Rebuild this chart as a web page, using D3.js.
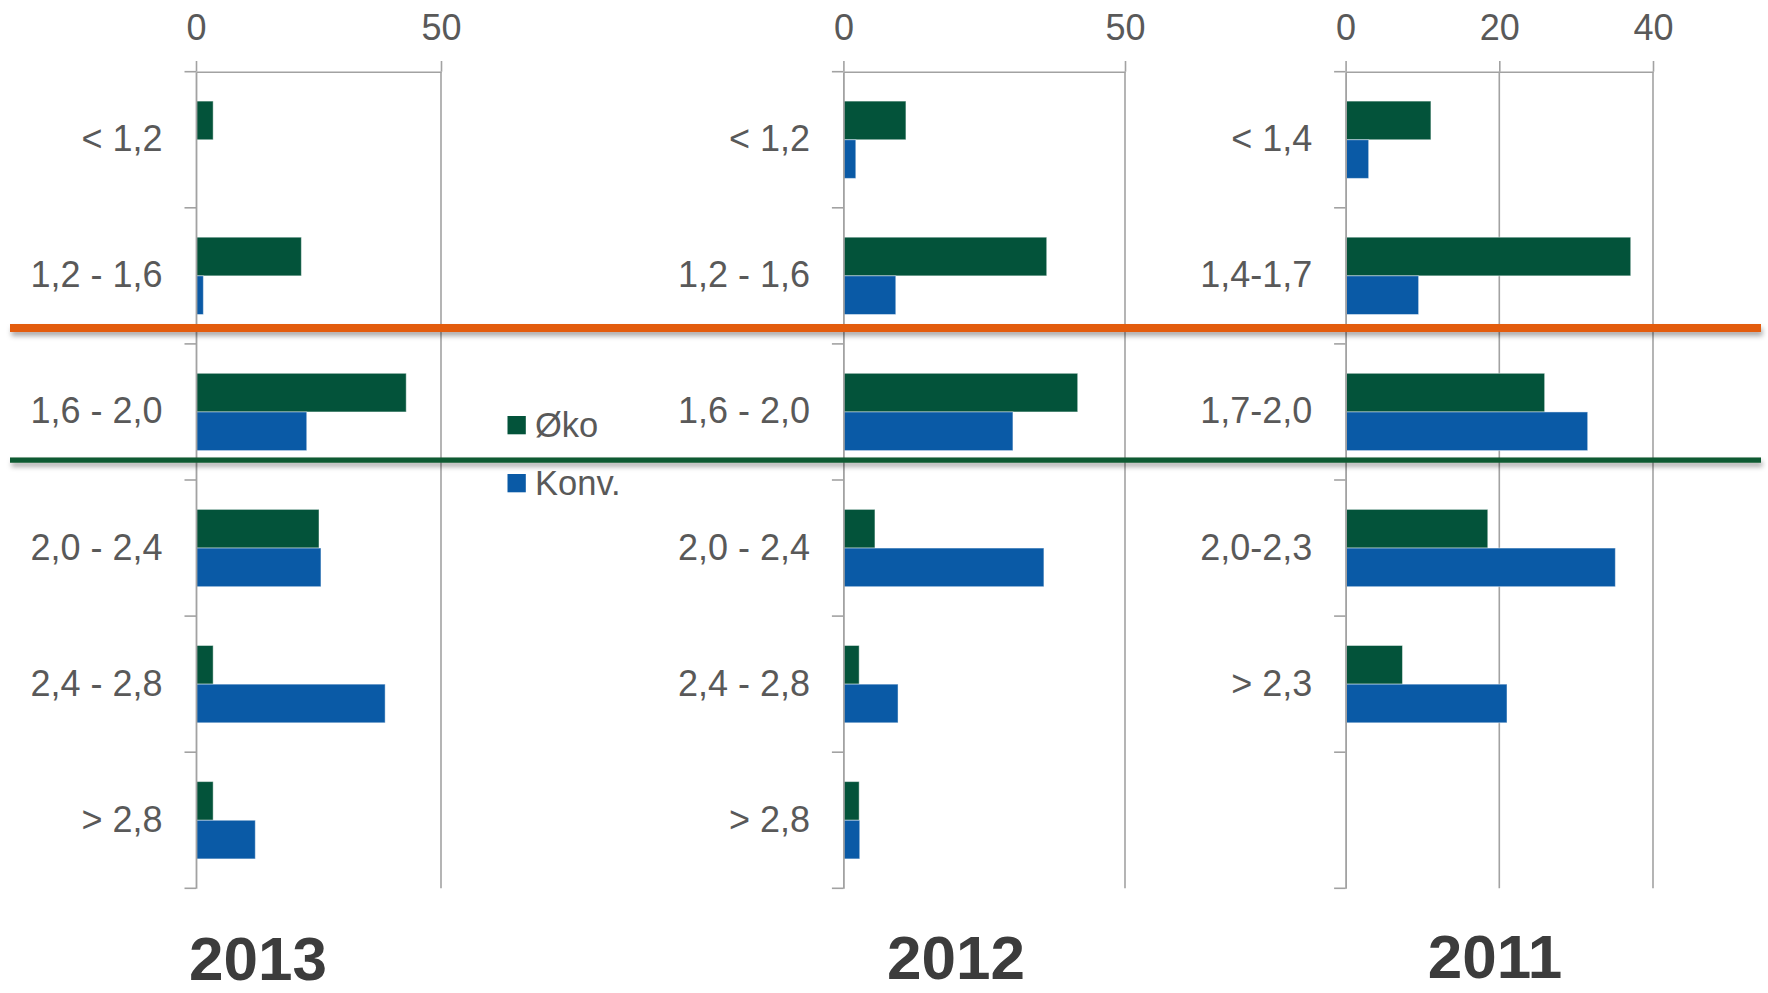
<!DOCTYPE html>
<html lang="da">
<head>
<meta charset="utf-8">
<title>Fordeling 2011–2013: Øko og Konv.</title>
<script src="https://cdn.jsdelivr.net/npm/d3@7"></script>
<style>
  html, body { margin: 0; padding: 0; background: #ffffff; }
  svg { display: block; font-family: "Liberation Sans", Arial, sans-serif; }
</style>
</head>
<body>
<script>
// ---- Data -----------------------------------------------------------
const seriesNames = ["Øko", "Konv."];

const labels2013 = ["< 1,2", "1,2 - 1,6", "1,6 - 2,0", "2,0 - 2,4", "2,4 - 2,8", "> 2,8"];
const oko2013    = [3.5, 21.5, 42.9, 25.1, 3.5, 3.5];
const konv2013   = [0, 1.5, 22.6, 25.5, 38.6, 12.1];
const ticks2013  = [0, 50];

const labels2012 = ["< 1,2", "1,2 - 1,6", "1,6 - 2,0", "2,0 - 2,4", "2,4 - 2,8", "> 2,8"];
const oko2012    = [11.1, 36.1, 41.6, 5.6, 2.8, 2.8];
const konv2012   = [2.2, 9.3, 30.1, 35.6, 9.7, 2.9];
const ticks2012  = [0, 50];

const labels2011 = ["< 1,4", "1,4-1,7", "1,7-2,0", "2,0-2,3", "> 2,3"];
const oko2011    = [11.1, 37.1, 25.9, 18.5, 7.4];
const konv2011   = [3.0, 9.5, 31.5, 35.1, 21.0];
const ticks2011  = [0, 20, 40];

// ---- Layout & style -------------------------------------------------
const W = 1768, H = 993;
const SLOTS = 6;                 // every panel has six category rows
const PLOT_TOP = 71.7, PLOT_BOTTOM = 888.3;
const COLORS = { "Øko": "#03533a", "Konv.": "#0a5aa6" };
const AXIS_COLOR = "#a2a2a2";
const TEXT_COLOR = "#595959";
const TITLE_COLOR = "#3c3c3c";
const FONT_SIZE = 36;

const panels = [
  { year: "2013", labels: labels2013, oko: oko2013, konv: konv2013, ticks: ticks2013,
    domain: [0, 50], left: 196, right: 441, titleX: 258, titleY: 980 },
  { year: "2012", labels: labels2012, oko: oko2012, konv: konv2012, ticks: ticks2012,
    domain: [0, 50], left: 843.4, right: 1125, titleX: 956, titleY: 979 },
  { year: "2011", labels: labels2011, oko: oko2011, konv: konv2011, ticks: ticks2011,
    domain: [0, 40], left: 1345.6, right: 1653, titleX: 1495, titleY: 978 }
];

const svg = d3.select("body").append("svg")
  .attr("width", W).attr("height", H)
  .attr("viewBox", `0 0 ${W} ${H}`);

svg.append("rect").attr("width", W).attr("height", H).attr("fill", "#ffffff");

// soft shadow under the marker lines
const defs = svg.append("defs");
const shadow = defs.append("filter")
  .attr("id", "lineShadow")
  .attr("filterUnits", "userSpaceOnUse")
  .attr("x", 0).attr("y", 0).attr("width", W).attr("height", H);
shadow.append("feDropShadow")
  .attr("dx", 1.5).attr("dy", 4).attr("stdDeviation", 2.6)
  .attr("flood-color", "#000").attr("flood-opacity", 0.33);

let bandScale = null;

function drawPanel(p) {
  const x = d3.scaleLinear().domain(p.domain).range([p.left, p.right]);
  const y = d3.scaleBand()
    .domain(d3.range(SLOTS))
    .range([PLOT_TOP, PLOT_BOTTOM])
    .paddingInner(0.432)
    .paddingOuter(0.216);
  bandScale = y;
  const sub = d3.scaleBand().domain(seriesNames).range([0, y.bandwidth()]);

  const g = svg.append("g").attr("class", "panel");

  // vertical gridlines
  g.append("g").selectAll("line")
    .data(p.ticks.filter(t => t > p.domain[0]))
    .join("line")
    .attr("x1", d => x(d)).attr("x2", d => x(d))
    .attr("y1", PLOT_TOP).attr("y2", PLOT_BOTTOM)
    .attr("stroke", AXIS_COLOR).attr("stroke-width", 1.6);

  // bars
  const rows = d3.range(SLOTS).flatMap(i => [
    { i, s: "Øko", v: p.oko[i] },
    { i, s: "Konv.", v: p.konv[i] }
  ]).filter(d => d.v != null && d.v > 0);

  g.append("g").selectAll("rect")
    .data(rows)
    .join("rect")
    .attr("x", x(0))
    .attr("y", d => y(d.i) + sub(d.s))
    .attr("width", d => x(d.v) - x(0))
    .attr("height", sub.bandwidth())
    .attr("fill", d => COLORS[d.s])
    .attr("stroke", "rgba(255,255,255,0.45)")
    .attr("stroke-width", 1);

  // value axis along the top
  const top = g.append("g")
    .attr("transform", `translate(0,${PLOT_TOP})`)
    .call(d3.axisTop(x).tickValues(p.ticks).tickSize(10.7).tickSizeOuter(0).tickPadding(21)
      .tickFormat(d3.format("d")));
  top.select(".domain").attr("stroke", AXIS_COLOR).attr("stroke-width", 1.6);
  top.selectAll(".tick line").attr("stroke", AXIS_COLOR).attr("stroke-width", 1.6);
  top.selectAll(".tick text")
    .attr("fill", TEXT_COLOR).attr("font-size", FONT_SIZE)
    .attr("font-family", "'Liberation Sans', Arial, sans-serif");

  // category axis on the left
  const left = g.append("g")
    .attr("transform", `translate(${x(0)},0)`)
    .call(d3.axisLeft(y).tickSize(0).tickSizeOuter(0).tickPadding(33.4)
      .tickFormat(i => p.labels[i] || ""));
  left.select(".domain").attr("stroke", AXIS_COLOR).attr("stroke-width", 1.8);
  left.selectAll(".tick text")
    .attr("fill", TEXT_COLOR).attr("font-size", FONT_SIZE)
    .attr("font-family", "'Liberation Sans', Arial, sans-serif");

  // tick marks between categories
  const bounds = y.domain().map(i => y(i) - y.step() * y.paddingInner() / 2)
    .concat([y.range()[1]]);
  left.append("g").selectAll("line")
    .data(bounds)
    .join("line")
    .attr("x1", -11.5).attr("x2", 0)
    .attr("y1", d => d).attr("y2", d => d)
    .attr("stroke", AXIS_COLOR).attr("stroke-width", 1.6);

  // year title
  svg.append("text")
    .attr("x", p.titleX).attr("y", p.titleY)
    .attr("text-anchor", "middle")
    .attr("font-size", 62).attr("font-weight", "bold")
    .attr("fill", TITLE_COLOR)
    .text(p.year);
}

panels.forEach(drawPanel);

// ---- Marker lines across all panels ---------------------------------
const markers = [
  { after: 1, offset: 13.5, thick: 8, color: "#e35b11" },
  { after: 2, offset: 9.5,  thick: 5.3, color: "#0d5a30" }
];
svg.append("g").attr("filter", "url(#lineShadow)")
  .selectAll("rect")
  .data(markers)
  .join("rect")
  .attr("x", 10).attr("width", 1751)
  .attr("y", d => bandScale(d.after) + bandScale.bandwidth() + d.offset - d.thick / 2)
  .attr("height", d => d.thick)
  .attr("fill", d => d.color);

// ---- Legend ---------------------------------------------------------
const legend = svg.append("g").attr("transform", "translate(507.5,416)");
const item = legend.selectAll("g")
  .data(seriesNames)
  .join("g")
  .attr("transform", (d, i) => `translate(0,${i * 58})`);
item.append("rect")
  .attr("width", 18.3).attr("height", 18.3)
  .attr("fill", d => COLORS[d]);
item.append("text")
  .attr("x", 27.5).attr("y", 9.2).attr("dy", "0.35em")
  .attr("font-size", 34.5)
  .attr("fill", TEXT_COLOR)
  .text(d => d);
</script>
</body>
</html>
